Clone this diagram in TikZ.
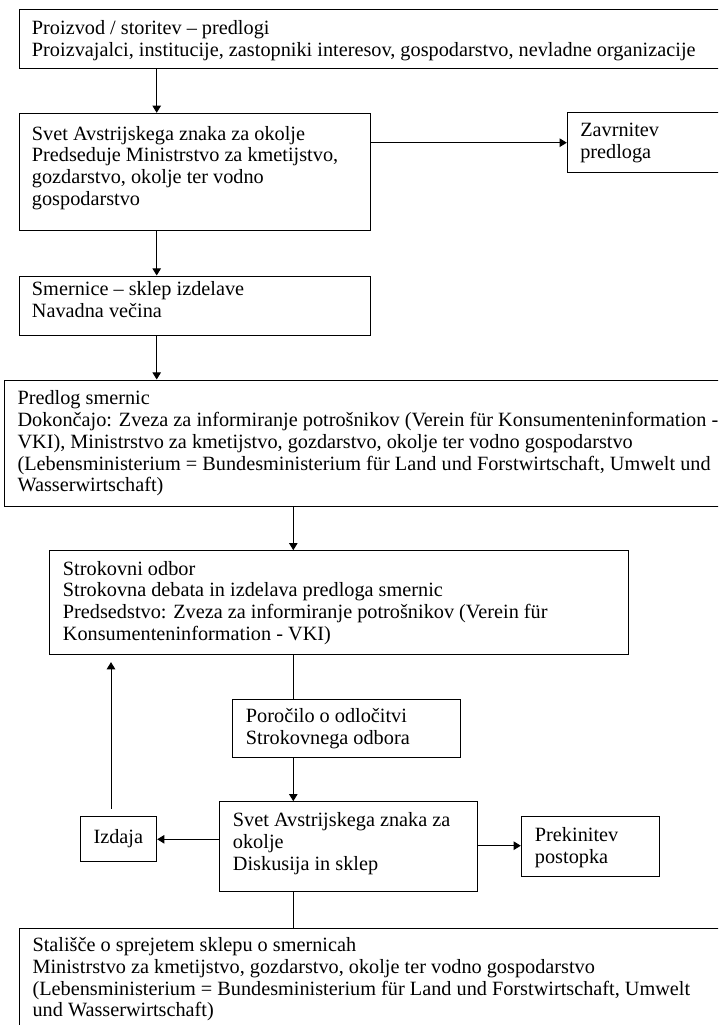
\documentclass[tikz,border=0pt]{standalone}
\usepackage{fontspec}
\setmainfont{Liberation Serif}
\usetikzlibrary{arrows.meta,fit}
\begin{document}
\begin{tikzpicture}[x=0.75pt,y=-0.75pt,
  box/.style={draw, line width=0.75pt, inner sep=0pt},
  txt/.style={anchor=base west, inner sep=0pt, align=left, font=\fontsize{15.2pt}{16.3pt}\selectfont},
  arr/.style={-{Triangle[length=5.4pt,width=6.4pt]}, line width=0.75pt},
  ln/.style={line width=0.75pt}]
\useasboundingbox (0,0) rectangle (718,1025);
\clip (0,0) rectangle (718,1025);
% corner coordinates
\coordinate (b1a) at (19,9.3);    \coordinate (b1b) at (740,68.3);
\coordinate (b2a) at (19,113.3);  \coordinate (b2b) at (370,230.7);
\coordinate (zva) at (567.3,112.7); \coordinate (zvb) at (740,172.3);
\coordinate (b4a) at (19,276);    \coordinate (b4b) at (370,335);
\coordinate (b5a) at (4,380);     \coordinate (b5b) at (740,506);
\coordinate (b6a) at (49.3,550.7); \coordinate (b6b) at (628,654.3);
\coordinate (poa) at (232.3,699.3); \coordinate (pob) at (460.7,757.7);
\coordinate (sva) at (219.3,801.7); \coordinate (svb) at (477.3,891);
\coordinate (iza) at (80,816.7);  \coordinate (izb) at (156.7,861.7);
\coordinate (pka) at (521.3,816.7); \coordinate (pkb) at (659,876.7);
\coordinate (sta) at (19,928.3);  \coordinate (stb) at (740,1060);
% boxes
\node[box, fit=(b1a)(b1b)] (b1) {};
\node[box, fit=(b2a)(b2b)] (b2) {};
\node[box, fit=(zva)(zvb)] (zav) {};
\node[box, fit=(b4a)(b4b)] (b4) {};
\node[box, fit=(b5a)(b5b)] (b5) {};
\node[box, fit=(b6a)(b6b)] (b6) {};
\node[box, fit=(poa)(pob)] (por) {};
\node[box, fit=(sva)(svb)] (sv) {};
\node[box, fit=(iza)(izb)] (izd) {};
\node[box, fit=(pka)(pkb)] (pk) {};
\node[box, fit=(sta)(stb)] (st) {};
% texts (anchor = baseline of the last line)
\node[txt] (t1) at (31.7,56.2) {Proizvod / storitev – predlogi\\Proizvajalci, institucije, zastopniki interesov, gospodarstvo, nevladne organizacije};
\node[txt] (t2) at (31.7,205.2) {Svet Avstrijskega znaka za okolje\\Predseduje Ministrstvo za kmetijstvo,\\gozdarstvo, okolje ter vodno\\gospodarstvo};
\node[txt] (tz) at (580,158.4) {Zavrnitev\\predloga};
\node[txt] (t4) at (31.7,317.7) {Smernice – sklep izdelave\\Navadna večina};
\node[txt] (t5) at (17.3,491.9) {Predlog smernic\\Dokončajo: Zveza za informiranje potrošnikov (Verein für Konsumenteninformation -\\VKI), Ministrstvo za kmetijstvo, gozdarstvo, okolje ter vodno gospodarstvo\\(Lebensministerium = Bundesministerium für Land und Forstwirtschaft, Umwelt und\\Wasserwirtschaft)};
\node[txt] (t6) at (62.7,640.2) {Strokovni odbor\\Strokovna debata in izdelava predloga smernic\\Predsedstvo: Zveza za informiranje potrošnikov (Verein für\\Konsumenteninformation - VKI)};
\node[txt] (tp) at (245.7,744.7) {Poročilo o odločitvi\\Strokovnega odbora};
\node[txt] (ts) at (232.7,870.2) {Svet Avstrijskega znaka za\\okolje\\Diskusija in sklep};
\node[txt, anchor=base] (ti) at (118.3,843) {Izdaja};
\node[txt] (tk) at (534.7,863.4) {Prekinitev\\postopka};
\node[txt] (tst) at (32.3,1016.9) {Stališče o sprejetem sklepu o smernicah\\Ministrstvo za kmetijstvo, gozdarstvo, okolje ter vodno gospodarstvo\\(Lebensministerium = Bundesministerium für Land und Forstwirtschaft, Umwelt\\und Wasserwirtschaft)};
% connectors
\coordinate (xA) at (156.7,0);
\coordinate (xB) at (293.3,0);
\coordinate (xC) at (111,0);
\coordinate (yZ) at (0,142.7);
\coordinate (yI) at (0,839.3);
\coordinate (yP) at (0,845.7);
\draw[arr] (b1.south -| xA) -- (b2.north -| xA);
\draw[arr] (b2.south -| xA) -- (b4.north -| xA);
\draw[arr] (b4.south -| xA) -- (b5.north -| xA);
\draw[arr] (b2.east |- yZ) -- (zav.west |- yZ);
\draw[arr] (b5.south -| xB) -- (b6.north -| xB);
\draw[ln] (b6.south -| xB) -- (por.north -| xB);
\draw[arr] (por.south -| xB) -- (sv.north -| xB);
\draw[ln] (sv.south -| xB) -- (st.north -| xB);
\draw[arr] (sv.west |- yI) -- (izd.east |- yI);
\draw[arr] (sv.east |- yP) -- (pk.west |- yP);
\draw[arr, shorten <=5.5pt, shorten >=5.5pt] (izd.north -| xC) -- (b6.south -| xC);
\end{tikzpicture}
\end{document}
